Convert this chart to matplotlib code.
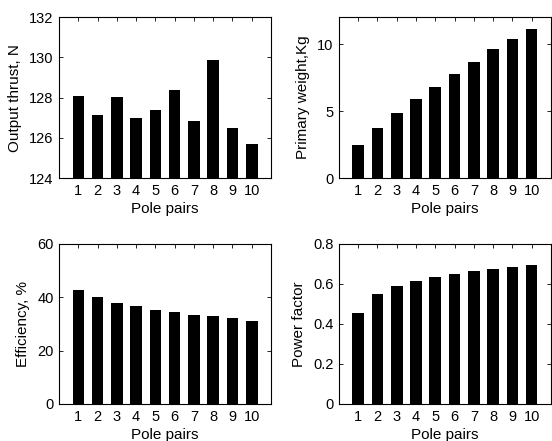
import matplotlib
matplotlib.use('Agg')
import matplotlib.pyplot as plt
from matplotlib.ticker import FormatStrFormatter

plt.rcParams['font.family'] = ['Liberation Sans', 'DejaVu Sans']
plt.rcParams['font.size'] = 10

pole_pairs = [1, 2, 3, 4, 5, 6, 7, 8, 9, 10]
thrust = [128.08, 127.13, 128.04, 127.0, 127.4, 128.37, 126.85, 129.87, 126.48, 125.72]
weight = [2.46, 3.74, 4.87, 5.9, 6.83, 7.79, 8.67, 9.6, 10.38, 11.13]
efficiency = [42.75, 40.1, 38.0, 36.75, 35.4, 34.6, 33.4, 32.9, 32.1, 31.25]
power_factor = [0.457, 0.547, 0.587, 0.615, 0.632, 0.65, 0.662, 0.672, 0.683, 0.693]

panels = [
    (thrust, 'Output thrust, N', (124, 132), [124, 126, 128, 130, 132]),
    (weight, 'Primary weight,Kg', (0, 12), [0, 5, 10]),
    (efficiency, 'Efficiency, %', (0, 60), [0, 20, 40, 60]),
    (power_factor, 'Power factor', (0, 0.8), [0, 0.2, 0.4, 0.6, 0.8]),
]

# axes boxes in figure fractions: left, bottom, width, height
boxes = [
    [0.107, 0.596, 0.384, 0.365],
    [0.614, 0.596, 0.384, 0.365],
    [0.107, 0.084, 0.384, 0.363],
    [0.614, 0.084, 0.384, 0.363],
]

fig = plt.figure(figsize=(5.52, 4.41), dpi=100)
for (vals, ylab, ylim, yt), box in zip(panels, boxes):
    ax = fig.add_axes(box)
    ax.bar(pole_pairs, vals, width=0.6, color='black')
    ax.set_xlim(0, 11)
    ax.set_ylim(*ylim)
    ax.set_xticks(pole_pairs)
    ax.set_yticks(yt)
    ax.yaxis.set_major_formatter(FormatStrFormatter('%g'))
    ax.set_xlabel('Pole pairs', fontsize=11, labelpad=3)
    ax.set_ylabel(ylab, fontsize=11, labelpad=5)
    ax.tick_params(direction='in', top=True, right=True, length=3, width=0.6, pad=4,
                   labelsize=10.5)
    for s in ax.spines.values():
        s.set_linewidth(0.8)

fig.savefig('out.png', dpi=100)
